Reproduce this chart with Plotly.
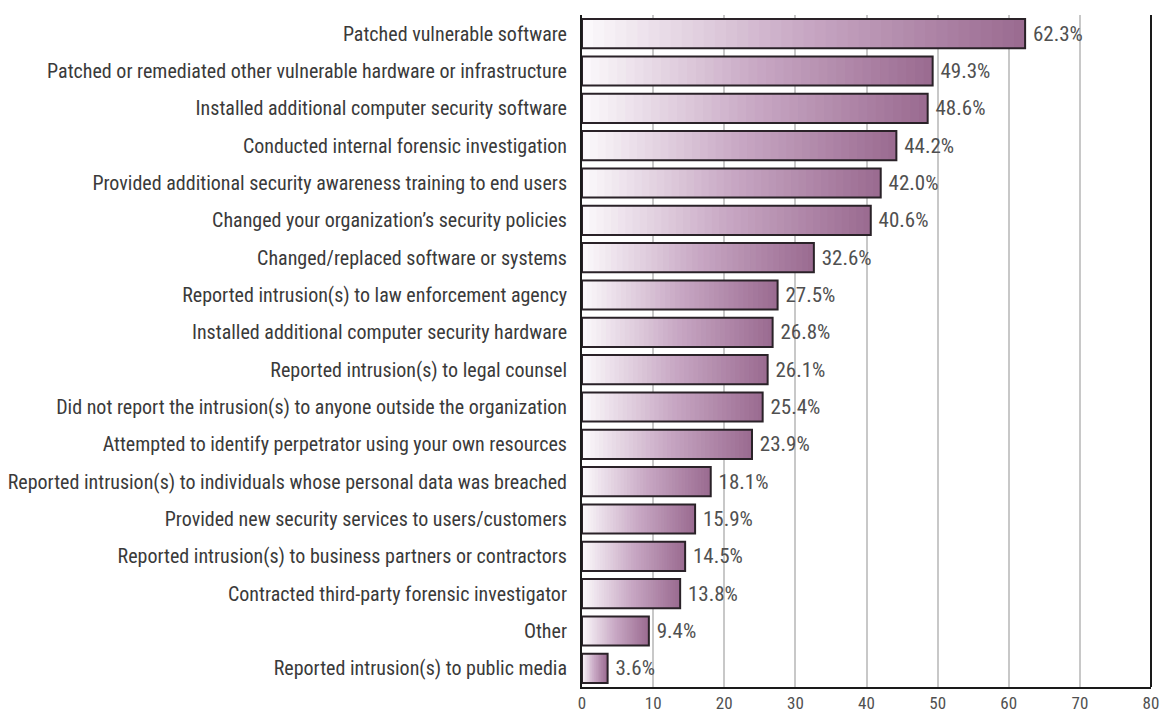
import plotly.graph_objects as go

categories = [
    "Patched vulnerable software",
    "Patched or remediated other vulnerable hardware or infrastructure",
    "Installed additional computer security software",
    "Conducted internal forensic investigation",
    "Provided additional security awareness training to end users",
    "Changed your organization\u2019s security policies",
    "Changed/replaced software or systems",
    "Reported intrusion(s) to law enforcement agency",
    "Installed additional computer security hardware",
    "Reported intrusion(s) to legal counsel",
    "Did not report the intrusion(s) to anyone outside the organization",
    "Attempted to identify perpetrator using your own resources",
    "Reported intrusion(s) to individuals whose personal data was breached",
    "Provided new security services to users/customers",
    "Reported intrusion(s) to business partners or contractors",
    "Contracted third-party forensic investigator",
    "Other",
    "Reported intrusion(s) to public media",
]
values = [62.3, 49.3, 48.6, 44.2, 42.0, 40.6, 32.6, 27.5, 26.8, 26.1, 25.4, 23.9, 18.1, 15.9, 14.5, 13.8, 9.4, 3.6]
x_ticks = [0, 10, 20, 30, 40, 50, 60, 70, 80]

FONT = "Liberation Sans Narrow, Roboto Condensed, Arial Narrow, Liberation Sans, sans-serif"
N = 40
c0 = (252, 250, 252)
cm = (200, 168, 196)
c1 = (154, 106, 144)


def grad(t):
    if t < 0.5:
        a, b, u = c0, cm, t / 0.5
    else:
        a, b, u = cm, c1, (t - 0.5) / 0.5
    return "rgb(%d,%d,%d)" % tuple(round(a[i] + (b[i] - a[i]) * u) for i in range(3))


fig = go.Figure()
W = 0.78
for k in range(N):
    bases = [v * k / N for v in values]
    fig.add_trace(go.Bar(
        y=categories,
        x=[min(v * 2.5 / N, v - b) for v, b in zip(values, bases)],
        base=bases,
        orientation="h",
        width=W,
        marker=dict(color=grad((k + 0.5) / N), line=dict(width=0)),
        hoverinfo="skip",
        showlegend=False,
    ))

fig.add_trace(go.Bar(
    y=categories,
    x=values,
    orientation="h",
    width=W,
    marker=dict(color="rgba(0,0,0,0)", line=dict(color="#2a2228", width=2)),
    text=["\u00a0%.1f%%" % v for v in values],
    textposition="outside",
    textfont=dict(family=FONT, size=21, color="#505050"),
    cliponaxis=False,
    showlegend=False,
))

fig.update_layout(
    barmode="overlay",
    width=1161,
    height=718,
    margin=dict(l=582, r=10, t=15, b=31, autoexpand=False),
    plot_bgcolor="white",
    paper_bgcolor="white",
    font=dict(family=FONT, color="#3a3a3a"),
    xaxis=dict(
        range=[0, 80],
        tickvals=x_ticks,
        ticktext=[str(t) for t in x_ticks],
        showgrid=True,
        gridcolor="#c8c8c8",
        gridwidth=2,
        zeroline=False,
        showline=True,
        linecolor="#1a1a1a",
        linewidth=2,
        ticks="",
        automargin=False,
        ticklabeloverflow="allow",
        tickfont=dict(family=FONT, size=17, color="#505050"),
    ),
    yaxis=dict(
        autorange="reversed",
        showline=True,
        linecolor="#1a1a1a",
        linewidth=2,
        showgrid=False,
        ticks="",
        automargin=False,
        ticklabeloverflow="allow",
        ticklabelstandoff=9,
        tickfont=dict(family=FONT, size=20, color="#3a3a3a"),
    ),
    shapes=[dict(type="line", xref="x domain", yref="y domain", x0=1, x1=1, y0=0, y1=1,
                 line=dict(color="#1a1a1a", width=2))],
)

fig.write_html(
    "out.html",
    config={"displayModeBar": False},
    post_script="document.body.style.margin='0';document.body.style.overflow='hidden';",
)
